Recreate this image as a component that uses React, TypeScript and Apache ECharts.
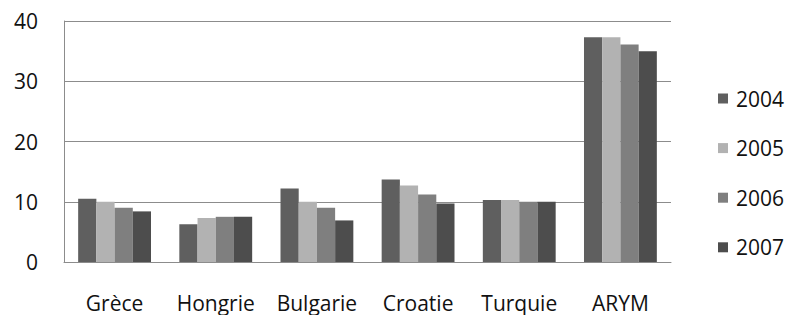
import React, { useEffect, useRef } from "react";
import * as echarts from "echarts";

const categories = ["Grèce", "Hongrie", "Bulgarie", "Croatie", "Turquie", "ARYM"];
const seriesNames = ["2004", "2005", "2006", "2007"];
const values2004 = [10.5, 6.25, 12.2, 13.7, 10.3, 37.3];
const values2005 = [10.0, 7.3, 10.0, 12.7, 10.3, 37.3];
const values2006 = [9.0, 7.5, 9.0, 11.2, 10.0, 36.1];
const values2007 = [8.4, 7.5, 6.9, 9.7, 10.0, 35.0];
const yTicks = [0, 10, 20, 30, 40];
const colors = ["#5f5f5f", "#b2b2b2", "#7f7f7f", "#4d4d4d"];

export default function App() {
  const ref = useRef<HTMLDivElement>(null);
  useEffect(() => {
    if (!ref.current) return;
    const chart = echarts.init(ref.current, null, { renderer: "svg" });
    const font = "'Open Sans', sans-serif";
    const data = [values2004, values2005, values2006, values2007];
    chart.setOption({
      animation: false,
      backgroundColor: "#ffffff",
      textStyle: { fontFamily: font },
      grid: { left: 64, top: 21, right: 121, bottom: 53 },
      legend: {
        orient: "vertical",
        left: 713,
        top: 83,
        itemWidth: 10,
        itemHeight: 10,
        itemGap: 28.6,
        icon: "rect",
        data: seriesNames,
        textStyle: { fontFamily: font, fontSize: 21, color: "#111", lineHeight: 20, padding: [0, 0, 0, 3] },
      },
      xAxis: {
        type: "category",
        data: categories,
        axisLine: { show: true, lineStyle: { color: "#8c8c8c", width: 1 } },
        axisTick: { show: false },
        axisLabel: { fontFamily: font, fontSize: 21, color: "#111", margin: 30, interval: 0, hideOverlap: false },
      },
      yAxis: {
        type: "value",
        min: yTicks[0],
        max: yTicks[yTicks.length - 1],
        interval: 10,
        axisLine: { show: true, lineStyle: { color: "#8c8c8c", width: 1 } },
        axisTick: { show: false },
        splitLine: { show: true, lineStyle: { color: "#8c8c8c", width: 1 } },
        axisLabel: { fontFamily: font, fontSize: 21, color: "#111", margin: 26 },
      },
      series: seriesNames.map((name, i) => ({
        name,
        type: "bar",
        data: data[i],
        barGap: "0%",
        barCategoryGap: "28%",
        itemStyle: { color: colors[i] },
      })),
    });
    return () => chart.dispose();
  }, []);
  return <div ref={ref} style={{ width: 792, height: 315, position: "absolute", left: 0, top: 0 }} />;
}
